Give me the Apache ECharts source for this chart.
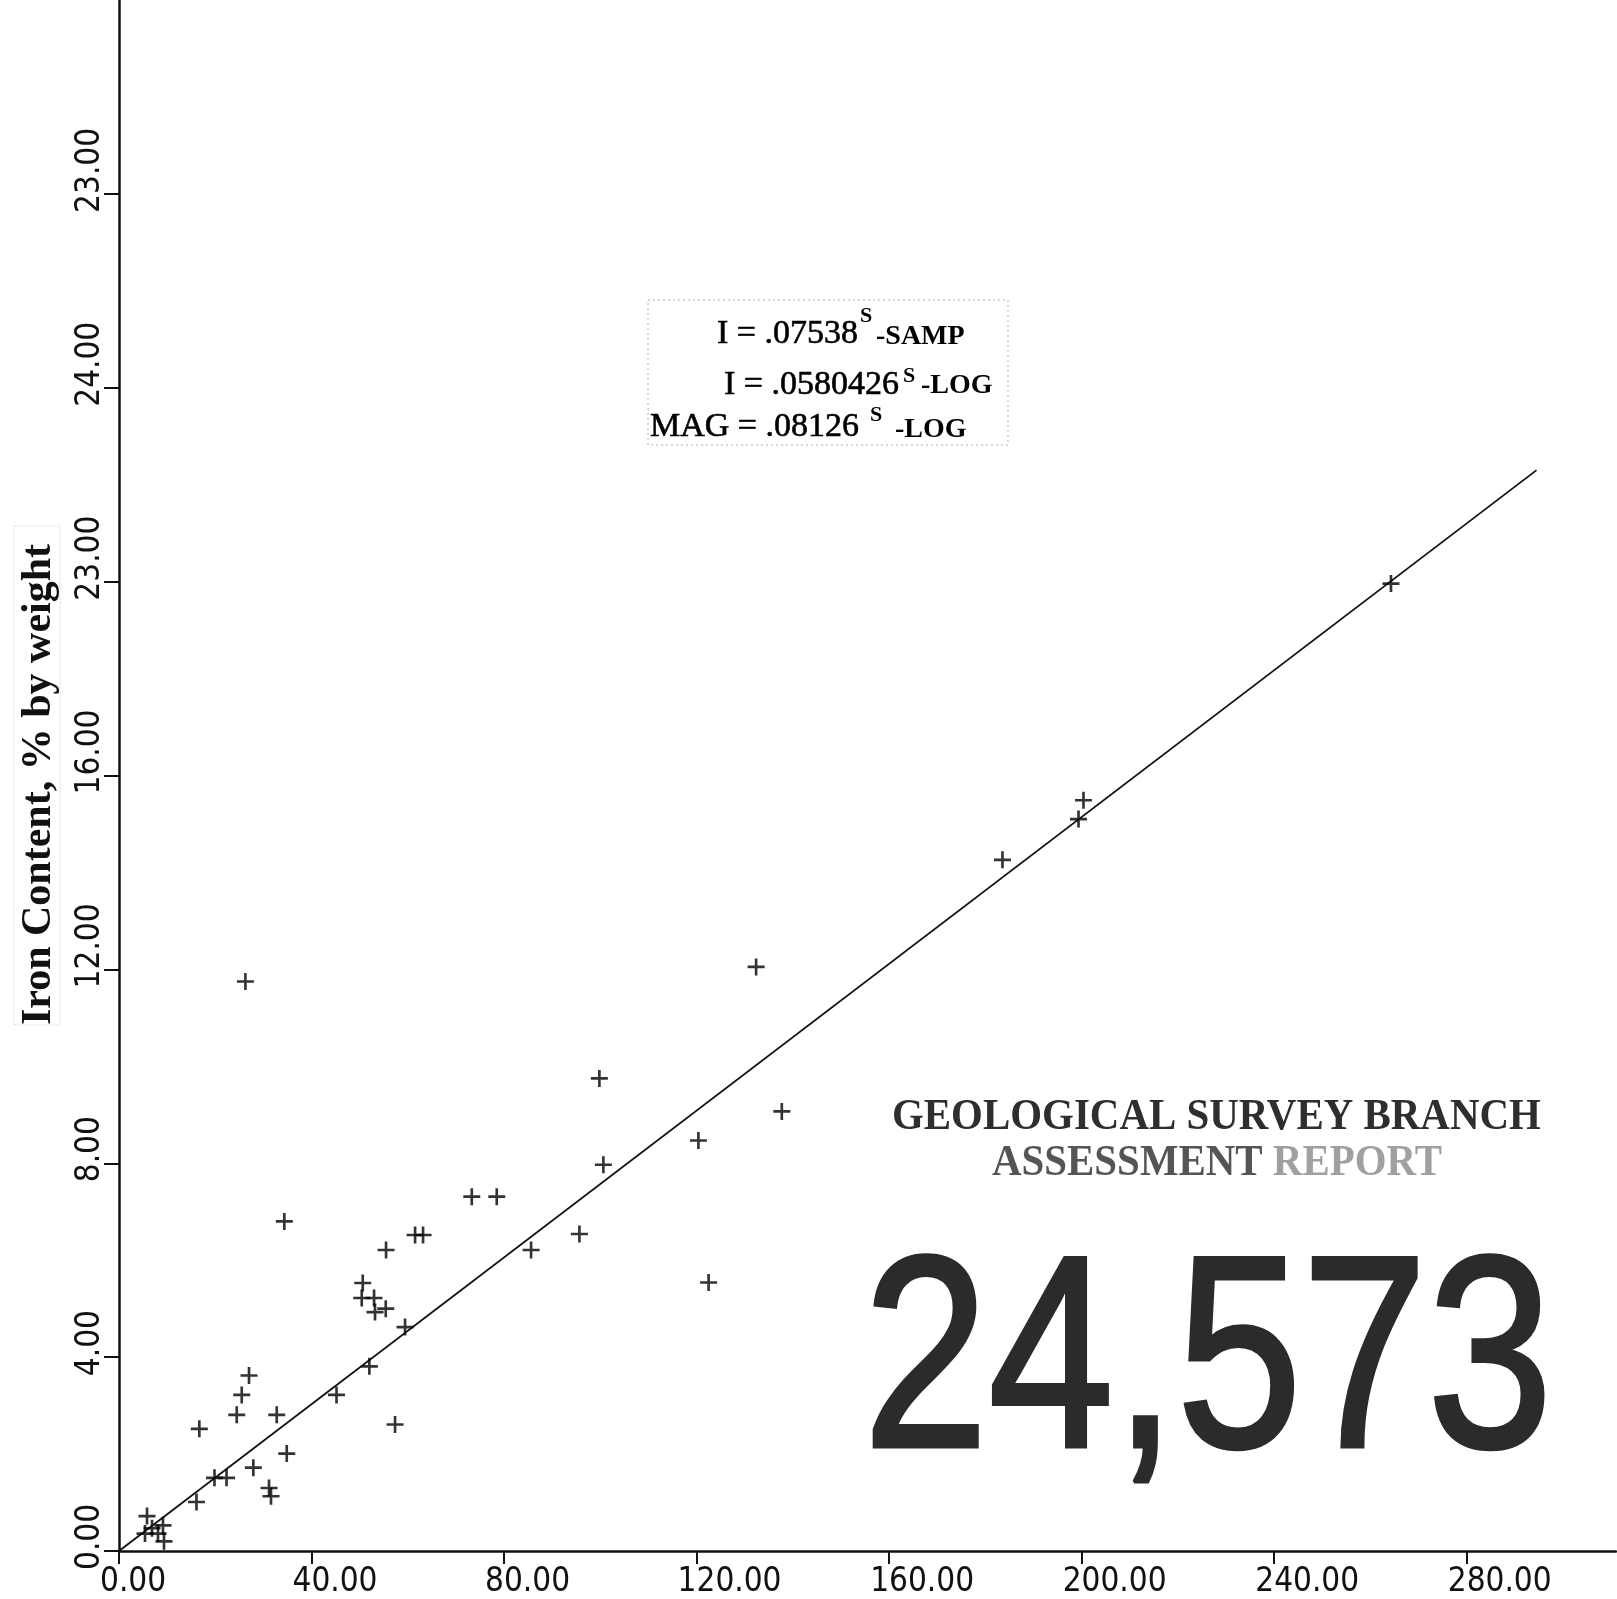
<!DOCTYPE html>
<html>
<head>
<meta charset="utf-8">
<script src="https://cdn.jsdelivr.net/npm/echarts@6/dist/echarts.min.js"></script>
<style>
html,body{margin:0;padding:0;background:#fff;}
#chart{width:1617px;height:1599px;}
</style>
</head>
<body>
<div id="chart"></div>
<script>
// ---- data ----
const sampleX = [34.35, 55.48, 61.51, 63.17, 50.64, 50.43, 52.99, 53.19, 55.42, 59.43,
                 52.01, 45.19, 57.35, 27.01, 25.50, 24.46, 32.77, 16.69, 34.85, 27.91,
                 19.84, 22.34, 31.17, 31.58, 16.10, 99.80, 100.63, 73.29, 78.48, 85.61,
                 95.65, 120.37, 122.49, 26.26, 132.36, 137.70, 183.54, 200.37, 199.34, 264.25,
                 5.82, 5.40, 6.86, 9.14, 9.35, 8.10];
const sampleY = [6.80, 6.21, 6.52, 6.52, 5.53, 5.22, 5.22, 4.93, 5.00, 4.62,
                 3.81, 3.22, 2.61, 3.62, 3.22, 2.81, 2.81, 2.52, 2.01, 1.72,
                 1.51, 1.51, 1.30, 1.13, 1.01, 9.75, 7.97, 7.31, 7.31, 6.21,
                 6.54, 8.47, 5.54, 11.75, 12.05, 9.07, 14.26, 15.49, 15.10, 19.96,
                 0.72, 0.36, 0.47, 0.53, 0.20, 0.36];
const fitLineX = [0, 294.5];
const fitLineY = [0, 22.3];
const xTickLabels = ['0.00', '40.00', '80.00', '120.00', '160.00', '200.00', '240.00', '280.00'];
const yTickLabels = ['0.00', '4.00', '8.00', '12.00', '16.00', '23.00', '24.00', '23.00'];
const yAxisTitle = 'Iron Content, % by weight';
const formulaMain = ['I = .07538', 'I = .0580426', 'MAG = .08126'];
const formulaSub = ['-SAMP', '-LOG', '-LOG'];
const stampLine1 = 'GEOLOGICAL SURVEY BRANCH';
const stampLine2a = 'ASSESSMENT';
const stampLine2b = 'REPORT';
const stampNumber = '24,573';

// ---- build ----
const points = sampleX.map((x, i) => [x, sampleY[i]]);
const linePts = fitLineX.map((x, i) => [x, fitLineY[i]]);
const tickFont = '"Liberation Sans Narrow", "DejaVu Sans Condensed", "Liberation Sans", sans-serif';
const serif = '"Liberation Serif", "DejaVu Serif", serif';

const chart = echarts.init(document.getElementById('chart'), null, {renderer: 'canvas'});

function txt(x, y, text, size, opts) {
  opts = opts || {};
  const style = {
    text: text, x: 0, y: 0,
    fontSize: size,
    fontFamily: opts.family || serif,
    fontWeight: opts.weight || 'normal',
    fill: opts.fill || '#000',
    align: 'left', verticalAlign: 'middle',
    rich: opts.rich
  };
  if (opts.stroke) { style.stroke = opts.stroke; style.lineWidth = opts.lineWidth; }
  return {type: 'text', x: x, y: y, z: 100, scaleX: opts.scaleX || 1, style: style};
}

const superX = [860, 903, 870];
const superY = [316, 376, 415];
const subX = [876, 921, 895];
const subY = [337, 386, 430];
const mainX = [717, 724, 650];
const mainY = [334, 385, 427];

const graphics = [
  {type: 'rect', z: 90, shape: {x: 648, y: 300, width: 360, height: 145},
   style: {fill: 'none', stroke: '#b0b0b0', lineWidth: 1, lineDash: [2, 3]}}
];
for (let i = 0; i < 3; i++) {
  graphics.push(txt(mainX[i], mainY[i], formulaMain[i], 34, {stroke: '#000', lineWidth: 0.6}));
  graphics.push(txt(superX[i], superY[i], 'S', 22, {weight: 'bold'}));
  graphics.push(txt(subX[i], subY[i], formulaSub[i], 28, {weight: 'bold'}));
}
graphics.push(txt(892, 1118, stampLine1, 44, {weight: 'bold', fill: '#2e2e2e', scaleX: 0.93}));
graphics.push(txt(992, 1164, '{a|' + stampLine2a + '} {b|' + stampLine2b + '}', 44, {
  scaleX: 0.93,
  rich: {a: {fontSize: 44, fontFamily: serif, fontWeight: 'bold', fill: '#555'},
         b: {fontSize: 44, fontFamily: serif, fontWeight: 'bold', fill: '#a0a0a0'}}
}));
graphics.push(txt(863, 1371, stampNumber, 274, {family: '"Liberation Sans", Arial, sans-serif',
  fill: '#2b2b2b', stroke: '#2b2b2b', lineWidth: 4, scaleX: 0.823}));

chart.setOption({
  animation: false,
  backgroundColor: '#ffffff',
  grid: {left: 119, right: 1, top: 0, bottom: 48},
  xAxis: {
    type: 'value', min: 0, max: 311, interval: 40,
    splitLine: {show: false},
    axisLine: {lineStyle: {color: '#111', width: 2.5}},
    axisTick: {length: 13, lineStyle: {color: '#111', width: 2}},
    axisLabel: {
      fontSize: 33, fontFamily: tickFont, color: '#111', margin: 15,
      align: 'left', padding: [0, 0, 0, -19], showMaxLabel: false,
      formatter: function (v) { return (v % 40 === 0 && xTickLabels[v / 40]) ? xTickLabels[v / 40] : ''; }
    }
  },
  yAxis: {
    type: 'value', min: 0, max: 32, interval: 4,
    splitLine: {show: false},
    name: yAxisTitle, nameLocation: 'middle', nameRotate: 90, nameGap: 59,
    nameTextStyle: {fontSize: 42, fontWeight: 'bold', fontFamily: serif, color: '#111',
      borderColor: '#d4d4d4', borderWidth: 1, borderType: 'dotted', padding: [4, 18, 0, 0]},
    axisLine: {lineStyle: {color: '#111', width: 2.5}},
    axisTick: {length: 15, lineStyle: {color: '#111', width: 2}},
    axisLabel: {
      fontSize: 33, fontFamily: tickFont, color: '#111', margin: 12, rotate: 90,
      align: 'left', verticalAlign: 'bottom', padding: [0, 0, 0, -19], showMaxLabel: false,
      formatter: function (v) { return (v % 4 === 0 && yTickLabels[v / 4]) ? yTickLabels[v / 4] : ''; }
    }
  },
  series: [
    {
      type: 'line', data: linePts, symbol: 'none', silent: true,
      lineStyle: {color: '#111', width: 1.8}, z: 3
    },
    {
      type: 'scatter', data: points,
      symbol: 'path://M6.75,0h2.5v16h-2.5z M0,6.75h16v2.5h-16z', symbolSize: 17,
      itemStyle: {color: '#000'}, z: 4
    }
  ],
  graphic: graphics
});
</script>
</body>
</html>
